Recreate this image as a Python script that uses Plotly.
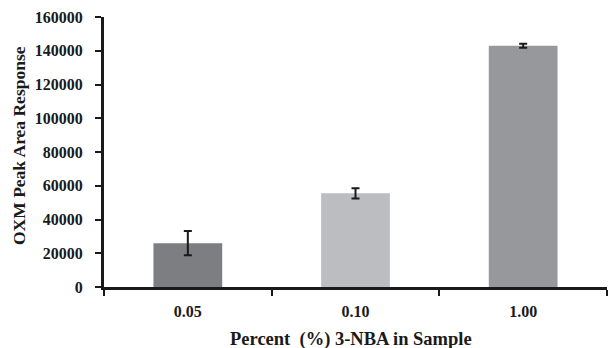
import plotly.graph_objects as go

categories = ["0.05", "0.10", "1.00"]
values = [26000, 55500, 143000]
errors = [7200, 3000, 1200]
colors = ["#7d7e82", "#bcbdc1", "#97989c"]
y_ticks = [0, 20000, 40000, 60000, 80000, 100000, 120000, 140000, 160000]
x_title = "Percent  (%) 3-NBA in Sample"
y_title = "OXM Peak Area Response"

font_family = "Liberation Serif"
ink = "#1a1a1a"

fig = go.Figure(go.Bar(
    x=categories, y=values,
    marker=dict(color=colors, line=dict(width=0)),
    width=0.41,
    error_y=dict(type="data", array=errors, color=ink, thickness=2, width=4),
))

fig.update_layout(
    width=608, height=348,
    margin=dict(l=104, r=1, t=17, b=61, autoexpand=False),
    paper_bgcolor="white", plot_bgcolor="white",
    showlegend=False,
    font=dict(family=font_family, color=ink, size=15),
)
fig.update_xaxes(
    type="category",
    tickson="boundaries",
    ticks="outside", ticklen=6, tickwidth=2, tickcolor=ink,
    showline=True, linewidth=3, linecolor=ink,
    showgrid=False, automargin=False,
    ticklabelstandoff=8,
    tickfont=dict(family=font_family, size=16, color=ink, weight="bold"),
)
fig.update_yaxes(
    range=[0, 160000],
    tickvals=y_ticks, tickformat="d",
    ticks="outside", ticklen=6, tickwidth=2, tickcolor=ink,
    showline=True, linewidth=3, linecolor=ink,
    showgrid=False, zeroline=False, automargin=False,
    ticklabelstandoff=9,
    tickfont=dict(family=font_family, size=16, color=ink, weight="bold"),
)
fig.add_annotation(
    text="<b>" + x_title + "</b>", xref="paper", yref="paper",
    x=(351 - 104) / 503, y=-(339 - 287) / 270, showarrow=False,
    xanchor="center", yanchor="middle",
    font=dict(family=font_family, size=18.5, color=ink),
)
fig.add_annotation(
    text="<b>" + y_title + "</b>", xref="paper", yref="paper",
    x=-(104 - 19) / 503, y=(287 - 146) / 270, showarrow=False, textangle=-90,
    xanchor="center", yanchor="middle",
    font=dict(family=font_family, size=17.5, color=ink),
)

fig.write_html(
    "out.html",
    config={"displayModeBar": False},
    post_script="document.body.style.margin='0';document.body.style.overflow='hidden';",
)
